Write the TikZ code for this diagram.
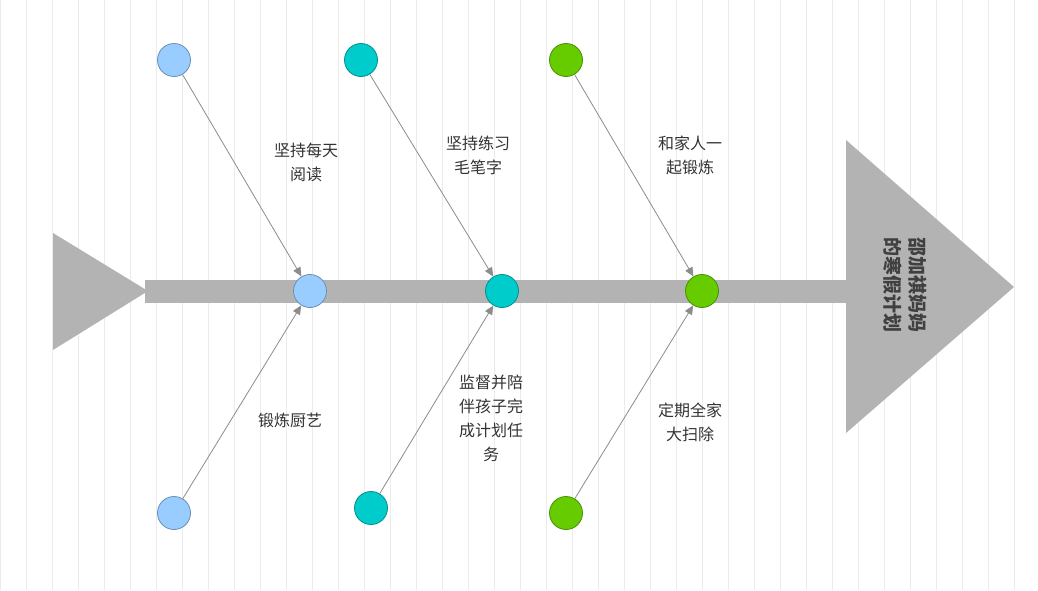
\documentclass[tikz,border=0pt]{standalone}
\usepackage{fontspec}
\newfontfamily\cjk{Noto Sans CJK SC}
\usetikzlibrary{arrows.meta}
\definecolor{lb}{HTML}{99CCFF}
\definecolor{tl}{HTML}{00CCCC}
\definecolor{gr}{HTML}{66CC00}
\definecolor{sp}{HTML}{B3B3B3}
\tikzset{
 bub/.style={circle,minimum size=33pt,inner sep=0,draw=#1!70!black,line width=0.8pt,fill=#1},
 lnk/.style={draw=gray!90,line width=0.8pt,-{Triangle[length=9pt,width=8pt]},shorten >=0pt},
 lbl/.style={font=\cjk\fontsize{16}{24}\selectfont,text=black!80,align=center}
}
\begin{document}
\begin{tikzpicture}[x=1pt,y=-1pt]
\useasboundingbox (0,0) rectangle (1038,590);
\fill[white] (0,0) rectangle (1038,590);
\draw[black!8,line width=0.6pt,step=26] (0,0) grid (1038,590);
\fill[sp] (53,233) -- (53,350) -- (148,291) -- cycle;
\fill[sp] (145,280) rectangle (850,303);
\fill[sp] (846,140) -- (846,433) -- (1014,287) -- cycle;
\node[lbl,rotate=-90,text=black!75,font=\cjk\bfseries\fontsize{19}{25}\selectfont] (h) at (905,285) {邵加祺妈妈\\的寒假计划};
\node[bub=lb] (s1) at (310,291) {};
\node[bub=tl] (s2) at (502,291) {};
\node[bub=gr] (s3) at (702,291) {};
\node[bub=lb] (t1) at (174,60) {};
\node[bub=tl] (t2) at (361,60) {};
\node[bub=gr] (t3) at (566,60) {};
\node[bub=lb] (b1) at (174,513) {};
\node[bub=tl] (b2) at (371,508) {};
\node[bub=gr] (b3) at (566,513) {};
\foreach \a/\b in {t1/s1,t2/s2,t3/s3,b1/s1,b2/s2,b3/s3} \draw[lnk] (\a) -- (\b);
\node[lbl] (l1) at (306,162) {坚持每天\\阅读};
\node[lbl] (l2) at (478,155) {坚持练习\\毛笔字};
\node[lbl] (l3) at (690,155) {和家人一\\起锻炼};
\node[lbl] (l4) at (290,420) {锻炼厨艺};
\node[lbl] (l5) at (491,418) {监督并陪\\伴孩子完\\成计划任\\务};
\node[lbl] (l6) at (690,422) {定期全家\\大扫除};
\end{tikzpicture}
\end{document}
